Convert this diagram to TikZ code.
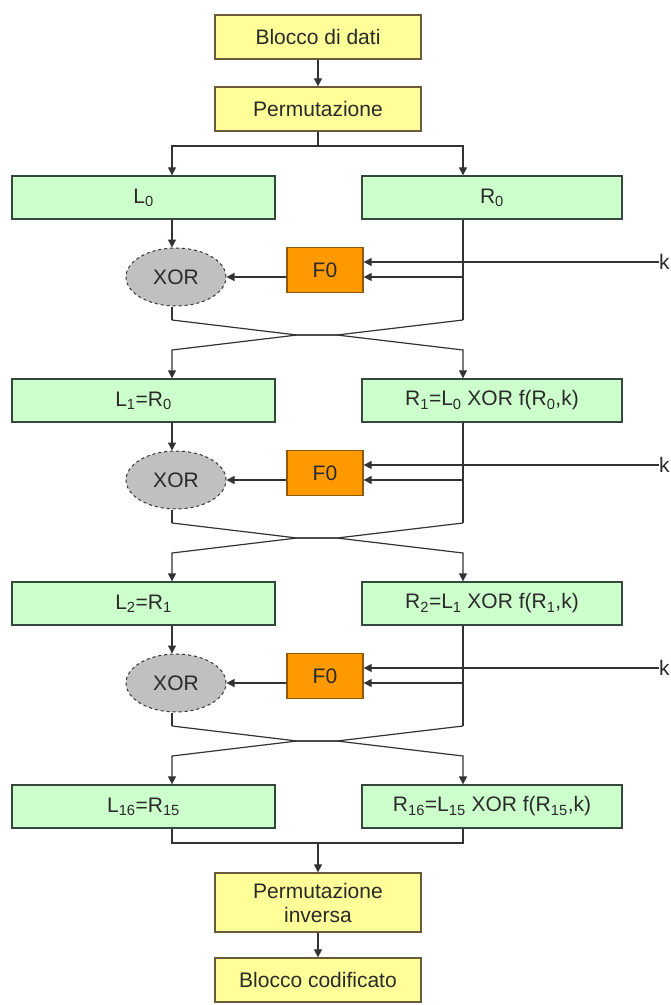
\documentclass[tikz,border=0pt]{standalone}
\usepackage{fontspec}
\setmainfont{Liberation Sans}
\usetikzlibrary{arrows.meta,shapes.geometric,calc}
\definecolor{yfill}{HTML}{FFFF99}
\definecolor{yline}{HTML}{6B5A3A}
\definecolor{gfill}{HTML}{CCFFCC}
\definecolor{gline}{HTML}{34493C}
\definecolor{ofill}{HTML}{FF9900}
\definecolor{oline}{HTML}{8B5A10}
\definecolor{xfill}{HTML}{C0C0C0}
\definecolor{linec}{HTML}{333333}
\definecolor{txt}{HTML}{2A2A2A}
\newcommand{\sbs}[1]{\textsubscript{#1}}
\tikzset{
  base/.style={draw, line width=1.3pt, inner sep=0pt, align=center, text=txt, font=\fontsize{21}{24}\selectfont},
  ybox/.style={base, rectangle, draw=yline, fill=yfill, minimum width=206pt, minimum height=44pt},
  gbox/.style={base, rectangle, draw=gline, fill=gfill, minimum height=43pt},
  fbox/.style={base, rectangle, draw=oline, fill=ofill, minimum width=76pt, minimum height=45pt},
  xell/.style={base, ellipse, draw=linec, dashed, line width=1pt, fill=xfill, minimum width=100pt, minimum height=58pt},
  klabel/.style={anchor=west, inner sep=0pt, text=txt, font=\fontsize{21}{24}\selectfont},
  conn/.style={draw=linec, line width=1.2pt},
  arr/.style={conn, -{Triangle[length=8pt,width=8pt]}}
}
\begin{document}
\begin{tikzpicture}[x=1pt,y=-1pt]
\useasboundingbox (0,0) rectangle (671,1005);
\coordinate (cl) at (172,0);
\coordinate (cr) at (463,0);
\coordinate (cm) at (318,0);
% top
\node[ybox] (top) at (318,37) {Blocco di dati};
\node[ybox] (perm) at (318,109) {Permutazione};
\coordinate (split) at (318,146);
% rows of L/R boxes
\node[gbox, minimum width=263pt] (L0) at (143.5,197.5) {L\sbs{0}};
\node[gbox, minimum width=260pt] (R0) at (492,197.5) {R\sbs{0}};
\node[gbox, minimum width=263pt] (L1) at (143.5,400.5) {L\sbs{1}=R\sbs{0}};
\node[gbox, minimum width=260pt] (R1) at (492,400.5) {R\sbs{1}=L\sbs{0} XOR f(R\sbs{0},k)};
\node[gbox, minimum width=263pt] (L2) at (143.5,603.5) {L\sbs{2}=R\sbs{1}};
\node[gbox, minimum width=260pt] (R2) at (492,603.5) {R\sbs{2}=L\sbs{1} XOR f(R\sbs{1},k)};
\node[gbox, minimum width=263pt] (L3) at (143.5,806.5) {L\sbs{16}=R\sbs{15}};
\node[gbox, minimum width=260pt] (R3) at (492,806.5) {R\sbs{16}=L\sbs{15} XOR f(R\sbs{15},k)};
% bottom
\node[ybox, minimum height=59pt] (pinv) at (318,902.5) {Permutazione\\inversa};
\node[ybox] (bcod) at (318,980) {Blocco codificato};

% top connectors
\draw[arr] (top) -- (perm);
\draw[conn] (perm.south) -- (split);
\draw[arr] (split) -| (L0.north -| cl);
\draw[arr] (split) -| (R0.north -| cr);

% rounds
\foreach \r/\nxt in {0/1,1/2,2/3}{
  \pgfmathsetmacro{\b}{203*\r}
  \node[xell] (X\r) at (176,277+\b) {XOR};
  \node[fbox] (F\r) at (325,270+\b) {F0};
  \node[klabel] (k\r) at (659,262+\b) {k};
  \coordinate (ctl\r) at (172,320+\b);
  \coordinate (ctr\r) at (463,320+\b);
  \coordinate (cma\r) at (297,335+\b);
  \coordinate (cmb\r) at (337,335+\b);
  \coordinate (cbl\r) at (172,350+\b);
  \coordinate (cbr\r) at (463,350+\b);
  \coordinate (br\r) at (463,277+\b);
  \draw[arr] (L\r.south -| cl) -- (X\r.north -| cl);
  \draw[conn] (R\r.south -| cr) -- (ctr\r);
  \draw[arr] (k\r.west) -- (k\r.west -| F\r.east);
  \draw[arr] (br\r) -- (br\r -| F\r.east);
  \draw[arr] (F\r.west |- X\r.east) -- (X\r.east);
  \draw[conn] (X\r.south -| cl) -- (ctl\r);
  \draw[arr] (ctl\r) -- (cma\r) -- (cmb\r) -- (cbr\r) -- (L\nxt.north -| cr);
  \draw[arr] (ctr\r) -- (cmb\r) -- (cma\r) -- (cbl\r) -- (L\nxt.north -| cl);
}

% merge
\coordinate (ml) at (172,843);
\coordinate (mr) at (463,843);
\coordinate (mc) at (318,843);
\draw[conn] (L3.south -| cl) -- (ml) -- (mr) -- (R3.south -| cr);
\draw[arr] (mc) -- (pinv.north);
\draw[arr] (pinv) -- (bcod);
\end{tikzpicture}
\end{document}
